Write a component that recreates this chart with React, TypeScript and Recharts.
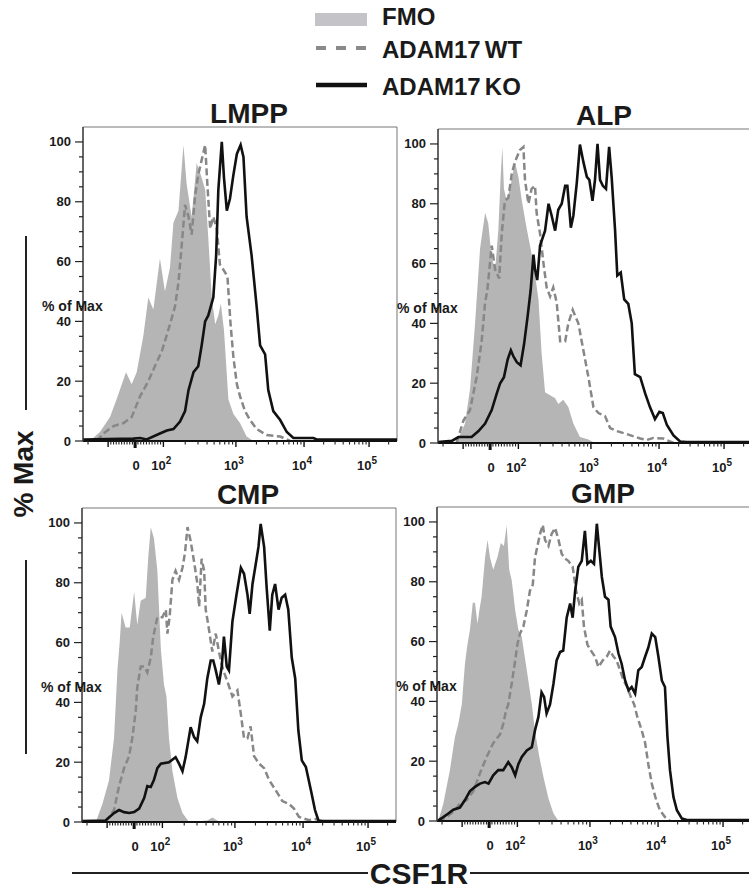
import React from 'react';
import { ComposedChart, Area, Line, XAxis, YAxis, ReferenceLine } from 'recharts';

type Pt = [number, number];

// x values are display channels (0..1000 across the plot), y values are % of max
const LMPP_FMO: Pt[] = [
  [22, 0], [54, 3], [86, 8], [107, 14], [137, 23], [155, 19], [171, 23], [192, 35], [208, 48], [224, 44],
  [245, 61], [261, 50], [277, 58], [288, 73], [304, 77], [320, 99], [330, 86], [346, 75], [362, 93], [378, 88],
  [389, 84], [399, 68], [410, 48], [421, 39], [431, 42], [439, 46], [449, 37], [463, 14], [479, 9], [500, 6],
  [521, 1.5], [543, 0],
];
const LMPP_WT: Pt[] = [
  [44, 0], [65, 2.5], [97, 5], [129, 6], [155, 8], [182, 15], [208, 20], [229, 25], [251, 30], [277, 39],
  [293, 45], [304, 53], [314, 65], [325, 79], [336, 75], [346, 69], [357, 82], [367, 89], [378, 94], [389, 99],
  [396, 86], [405, 71], [415, 75], [426, 71], [436, 59], [449, 57], [460, 55], [470, 39], [479, 28], [490, 19],
  [500, 15], [516, 10], [532, 7], [553, 4], [585, 2], [628, 1.5], [660, 0],
];
const LMPP_KO: Pt[] = [
  [0, 0.5], [160, 0.8], [182, 1], [203, 0.5], [245, 2.5], [267, 3.5], [288, 4], [309, 6.5], [325, 10], [336, 17],
  [352, 23], [367, 25], [378, 32], [389, 40], [399, 42], [415, 48], [424, 62], [431, 84], [442, 100], [449, 88],
  [458, 77], [468, 81], [479, 89], [490, 96], [502, 99], [511, 95], [521, 75], [537, 62], [553, 45], [564, 32],
  [580, 29], [590, 17], [606, 10], [628, 7], [649, 3], [670, 1], [734, 1], [744, 0.5], [1000, 0.5],
];

const ALP_FMO: Pt[] = [
  [59, 0], [86, 6.5], [102, 18], [118, 40], [134, 65], [150, 77], [160, 73.5], [171, 62], [182, 58], [192, 71],
  [200, 90], [205, 99], [210, 85], [219, 81], [235, 88], [245, 94], [256, 89], [267, 81], [282, 72], [304, 60],
  [320, 48], [330, 30], [341, 17], [357, 16], [373, 15], [383, 13], [399, 14.5], [415, 12], [431, 6.5], [452, 2],
  [479, 1.2], [500, 0],
];
const ALP_WT: Pt[] = [
  [59, 0], [81, 7.5], [102, 11], [123, 22], [139, 34], [150, 47], [157, 51], [171, 66], [182, 58], [195, 55],
  [203, 70], [213, 81], [224, 82], [235, 90], [245, 94], [261, 98], [272, 99], [277, 88], [288, 80], [298, 85],
  [309, 86], [314, 77], [325, 70], [336, 60], [346, 52], [357, 49], [367, 52], [378, 47], [389, 34], [405, 34],
  [415, 40], [429, 44.5], [447, 40], [463, 31], [479, 22], [495, 12], [511, 10], [532, 9], [548, 5], [569, 4],
  [601, 3], [644, 1.5], [665, 1], [686, 1.7], [718, 1.5], [750, 0],
];
const ALP_KO: Pt[] = [
  [0, 0.3], [44, 0.7], [65, 2], [107, 2], [129, 4], [150, 6.5], [171, 11], [187, 16.5], [198, 20], [210, 22],
  [222, 28], [232, 31], [240, 29], [251, 27], [263, 26], [274, 33], [285, 42], [295, 51], [304, 63], [309, 58],
  [316, 54.5], [325, 66], [341, 71], [352, 80], [362, 76], [373, 71], [383, 78], [394, 80], [405, 86], [412, 86],
  [423, 72], [431, 76], [442, 87], [452, 99.8], [463, 94], [474, 89], [482, 88], [492, 81], [500, 88], [508, 100],
  [516, 88], [525, 86], [535, 85], [545, 99], [553, 89], [564, 71], [571, 56], [582, 57], [593, 48], [606, 46.5],
  [617, 40], [627, 23], [644, 22], [660, 16.5], [675, 12], [691, 8], [705, 10.4], [716, 10], [729, 6], [750, 2.5],
  [771, 0.5], [792, 0.3], [1000, 0.3],
];

const CMP_FMO: Pt[] = [
  [44, 0], [65, 6], [86, 14], [102, 28], [113, 51], [120, 60], [126, 70], [139, 65], [152, 65], [166, 77],
  [176, 66], [187, 74], [203, 75], [211, 88.5], [219, 98.6], [229, 95], [240, 84], [251, 58], [261, 46], [269, 42],
  [277, 28], [288, 17], [304, 8], [320, 3], [341, 0], [399, 0.5], [415, 1.5], [431, 0.5], [442, 0],
];
const CMP_WT: Pt[] = [
  [75, 0], [102, 4], [118, 12], [134, 18], [150, 22], [160, 28], [171, 37], [176, 45], [187, 52], [198, 52],
  [208, 50], [219, 55], [227, 62], [240, 68.5], [256, 68.5], [267, 71], [272, 63], [279, 68.5], [288, 81], [298, 84],
  [309, 81], [320, 85], [328, 90], [336, 98.6], [346, 94], [357, 87], [367, 80], [373, 72], [381, 88], [389, 84],
  [394, 71], [402, 66], [415, 57], [426, 63], [436, 57], [449, 51], [463, 47], [479, 42], [495, 44], [506, 36],
  [516, 28], [527, 28], [537, 32], [548, 22], [564, 19.5], [580, 18], [596, 14], [617, 10.6], [638, 7], [660, 6],
  [675, 4.5], [691, 1.7], [723, 0.6], [744, 1], [766, 0],
];
const CMP_KO: Pt[] = [
  [0, 0.3], [75, 0.5], [102, 3], [118, 4], [134, 3.3], [150, 3], [166, 3.3], [182, 4.5], [198, 8], [208, 12],
  [219, 11.7], [229, 14], [240, 18], [251, 19.5], [277, 20], [298, 21.7], [309, 19.5], [320, 17], [330, 21.7], [346, 31.7],
  [357, 28.4], [367, 27], [378, 35], [389, 39.5], [399, 48], [410, 54], [418, 54], [426, 50.7], [436, 46], [445, 52],
  [452, 62], [461, 52], [468, 50.7], [479, 67], [492, 76], [506, 85], [516, 83], [527, 76], [534, 69.6], [543, 79.6],
  [553, 86], [562, 92], [569, 99.7], [580, 92], [588, 78.5], [598, 64], [606, 76], [615, 79.6], [626, 71], [636, 75],
  [647, 76], [657, 71], [668, 55], [679, 48], [689, 30.6], [700, 20.6], [713, 18.4], [729, 10.6], [742, 4], [753, 0.5],
  [766, 0.3], [1000, 0.3],
];

const GMP_FMO: Pt[] = [
  [4, 0], [20, 5.8], [41, 17], [57, 28], [68, 32.5], [79, 39], [89, 52.6], [97, 59], [105, 64], [114, 73],
  [121, 73], [129, 66], [135, 70.5], [142, 75], [153, 88], [161, 94], [169, 88], [179, 84], [192, 88], [203, 93],
  [213, 92], [222, 99], [230, 84], [238, 80.5], [249, 70.5], [259, 64], [270, 61.5], [286, 50.4], [302, 39], [312, 30],
  [326, 21.4], [339, 14.7], [355, 7.5], [371, 2.5], [387, 0],
];
const GMP_WT: Pt[] = [
  [4, 0], [31, 1.3], [57, 3.6], [73, 5.8], [95, 7], [116, 10], [137, 16], [158, 21.4], [179, 26], [201, 29],
  [211, 32.5], [220, 37], [227, 39], [238, 46], [249, 53.7], [256, 59], [264, 62.6], [275, 65], [286, 70.5], [296, 77],
  [305, 79], [312, 88], [320, 92], [328, 96], [337, 99], [344, 94], [355, 92], [365, 96], [376, 98], [387, 94],
  [397, 89.4], [408, 87.7], [418, 87], [432, 85], [443, 77], [453, 72.7], [461, 74], [468, 65], [479, 59], [490, 57],
  [503, 55], [514, 51.5], [528, 53.7], [541, 55], [551, 57], [562, 55], [572, 53.7], [583, 50.4], [594, 47], [606, 44.8],
  [617, 41.5], [628, 39], [638, 34.8], [652, 30.3], [663, 26], [673, 19], [684, 12.5], [698, 7], [710, 3.6], [726, 1.3],
  [742, 0],
];
const GMP_KO: Pt[] = [
  [4, 0.2], [20, 1.3], [36, 2.5], [52, 3.8], [73, 4.5], [89, 7], [105, 10], [121, 11.4], [137, 12.5], [153, 13],
  [164, 12.5], [179, 15.3], [195, 17], [211, 17], [227, 19.7], [238, 18], [249, 15.3], [259, 19], [270, 21.4], [286, 23.6],
  [302, 24.7], [312, 30.3], [323, 34.8], [333, 43], [341, 41.5], [349, 36], [360, 39], [371, 46], [381, 53.7], [392, 56.5],
  [402, 57], [413, 68], [424, 72.7], [432, 68], [440, 77], [450, 85], [461, 87], [471, 97], [479, 86], [490, 87],
  [500, 86], [509, 99.4], [517, 90.5], [525, 81.6], [535, 75], [546, 74], [553, 65], [567, 61.5], [578, 56], [588, 52.6],
  [599, 47], [610, 43.7], [620, 44.8], [631, 42.6], [641, 50.4], [652, 51.5], [663, 55], [673, 58], [684, 62.7], [695, 61.5],
  [705, 55], [716, 47], [726, 44.8], [734, 28], [742, 17], [753, 8], [764, 3.6], [780, 0.8], [796, 0.3], [1000, 0.3],
];

// axis ticks (display channels) and labels
const X_MAJOR_TICKS = [80, 166, 256, 487, 704, 911];
const X_MAJOR_BASE = ['', '0', '10', '10', '10', '10'];
const X_MAJOR_EXP = ['', '', '2', '3', '4', '5'];
const X_EXTRA_MINOR = [16];
const Y_TICKS = [0, 5, 10, 15, 20, 25, 30, 35, 40, 45, 50, 55, 60, 65, 70, 75, 80, 85, 90, 95, 100];
const Y_LABELED = [0, 20, 40, 60, 80, 100];

const LEGEND_LABELS = ['FMO', 'ADAM17 WT', 'ADAM17 KO'];
const PANEL_TITLES = ['LMPP', 'ALP', 'CMP', 'GMP'];
const Y_AXIS_LABEL = '% of Max';
const BIG_Y_LABEL = '% Max';
const BIG_X_LABEL = 'CSF1R';

const FONT = '"Liberation Sans", Arial, Helvetica, sans-serif';
const FMO_FILL = '#b5b5b5';
const WT_STROKE = '#878787';
const KO_STROKE = '#111111';
const INK = '#1a1a1a';

function buildMinorTicks(): number[] {
  const out: number[] = [...X_EXTRA_MINOR];
  const neg = X_MAJOR_TICKS[0];
  const zero = X_MAJOR_TICKS[1];
  const pos = X_MAJOR_TICKS[2];
  for (let k = 1; k <= 9; k++) {
    out.push(zero - (k * (zero - neg)) / 10);
    out.push(zero + (k * (pos - zero)) / 10);
  }
  const decades = X_MAJOR_TICKS.slice(2);
  for (let i = 0; i < decades.length; i++) {
    const a = decades[i];
    const b = i + 1 < decades.length ? decades[i + 1] : a + (decades[i] - decades[i - 1]);
    for (let m = 2; m <= 9; m++) {
      const p = a + Math.log10(m) * (b - a);
      if (p < 1000) out.push(p);
    }
  }
  return out;
}
const X_ALL_TICKS = [...X_MAJOR_TICKS, ...buildMinorTicks()].sort((a, b) => a - b);

function merge(fmo: Pt[], wt: Pt[], ko: Pt[]) {
  const map = new Map<number, any>();
  const add = (arr: Pt[], key: string) =>
    arr.forEach(([x, y]) => {
      const r = map.get(x) ?? { x };
      r[key] = y;
      map.set(x, r);
    });
  add(fmo, 'fmo');
  add(wt, 'wt');
  add(ko, 'ko');
  return Array.from(map.values()).sort((a, b) => a.x - b.x);
}

const XTick = (props: any) => {
  const { x, y, payload } = props;
  const v = payload.value;
  const mi = X_MAJOR_TICKS.indexOf(v);
  if (mi < 0) {
    return <line x1={x} x2={x} y1={y} y2={y + 3.5} stroke="#222" strokeWidth={1.1} />;
  }
  const isZero = X_MAJOR_BASE[mi] === '0';
  return (
    <g>
      <line x1={x} x2={x} y1={y} y2={y + (isZero ? 7 : 6)} stroke="#111" strokeWidth={isZero ? 3 : 1.4} />
      {X_MAJOR_BASE[mi] !== '' && (
        <text
          x={isZero ? x + 1 : x - 2}
          y={y + 29}
          textAnchor="middle"
          fontSize={13}
          fontWeight="bold"
          fontFamily={FONT}
          fill={INK}
        >
          {X_MAJOR_BASE[mi]}
          {X_MAJOR_EXP[mi] !== '' && (
            <tspan dy={-6} fontSize={10}>
              {X_MAJOR_EXP[mi]}
            </tspan>
          )}
        </text>
      )}
    </g>
  );
};

const YTick = (props: any) => {
  const { x, y, payload } = props;
  const v = payload.value;
  const major = Y_LABELED.indexOf(v) >= 0;
  return (
    <g>
      <line x1={x - (major ? 8 : 4)} x2={x} y1={y} y2={y} stroke="#222" strokeWidth={1.2} />
      {major && (
        <text x={x - 12} y={y + 4.5} textAnchor="end" fontSize={13} fontWeight="bold" fontFamily={FONT} fill={INK}>
          {v}
        </text>
      )}
    </g>
  );
};

const PLOT = 314;
const PANEL_POS = [
  { left: 83, top: 127 },
  { left: 438, top: 129 },
  { left: 82, top: 508 },
  { left: 437, top: 507 },
];
const PANEL_DATA = [
  merge(LMPP_FMO, LMPP_WT, LMPP_KO),
  merge(ALP_FMO, ALP_WT, ALP_KO),
  merge(CMP_FMO, CMP_WT, CMP_KO),
  merge(GMP_FMO, GMP_WT, GMP_KO),
];

function Panel({ idx }: { idx: number }) {
  const pos = PANEL_POS[idx];
  return (
    <div style={{ position: 'absolute', left: pos.left - 83, top: pos.top - 40 }}>
      <ComposedChart
        width={83 + PLOT + 5}
        height={40 + PLOT + 45}
        data={PANEL_DATA[idx]}
        margin={{ top: 40, right: 5, bottom: 0, left: 0 }}
      >
        <XAxis
          dataKey="x"
          type="number"
          domain={[0, 1000]}
          ticks={X_ALL_TICKS}
          interval={0}
          tick={<XTick />}
          tickLine={false}
          tickSize={0}
          tickMargin={0}
          height={45}
          allowDataOverflow
          axisLine={{ stroke: '#111', strokeWidth: 2 }}
        />
        <YAxis
          type="number"
          domain={[0, 105]}
          ticks={Y_TICKS}
          interval={0}
          tick={<YTick />}
          tickLine={false}
          tickSize={0}
          tickMargin={0}
          width={83}
          allowDataOverflow
          axisLine={{ stroke: '#333', strokeWidth: 1.5 }}
        />
        <ReferenceLine y={105} stroke="#777" strokeWidth={1} />
        <ReferenceLine x={1000} stroke="#777" strokeWidth={1} />
        <Area
          dataKey="fmo"
          type="linear"
          stroke="none"
          fill={FMO_FILL}
          fillOpacity={1}
          connectNulls
          isAnimationActive={false}
          dot={false}
          activeDot={false}
        />
        <Line
          dataKey="wt"
          type="linear"
          stroke={WT_STROKE}
          strokeWidth={2.5}
          strokeDasharray="7 3.5"
          connectNulls
          dot={false}
          activeDot={false}
          isAnimationActive={false}
        />
        <Line
          dataKey="ko"
          type="linear"
          stroke={KO_STROKE}
          strokeWidth={2.6}
          connectNulls
          dot={false}
          activeDot={false}
          isAnimationActive={false}
        />
      </ComposedChart>
    </div>
  );
}

function Overlay() {
  return (
    <svg
      width={749}
      height={890}
      style={{ position: 'absolute', left: 0, top: 0, pointerEvents: 'none' }}
      fontFamily={FONT}
      fontWeight="bold"
      fill={INK}
    >
      {/* legend */}
      <rect x={315} y={13} width={52} height={13} fill="#c4c4c8" />
      <text x={382} y={25} fontSize={24}>{LEGEND_LABELS[0]}</text>
      <line x1={316} x2={367} y1={48} y2={48} stroke="#8a8a8a" strokeWidth={4} strokeDasharray="10 10" />
      <text x={382} y={58} fontSize={24} wordSpacing={-2.5}>{LEGEND_LABELS[1]}</text>
      <line x1={316} x2={367} y1={85} y2={85} stroke="#111" strokeWidth={4.5} />
      <text x={382} y={95} fontSize={24} wordSpacing={-2.5}>{LEGEND_LABELS[2]}</text>

      {/* panel titles and y labels */}
      {PANEL_POS.map((p, i) => (
        <g key={i}>
          <text x={p.left + 166} y={p.top - 4} fontSize={28} textAnchor="middle">
            {PANEL_TITLES[i]}
          </text>
          <text x={p.left - 41} y={p.top + PLOT - 130} fontSize={14}>
            {Y_AXIS_LABEL}
          </text>
        </g>
      ))}

      {/* shared y label */}
      <line x1={26} x2={26} y1={236} y2={410} stroke="#222" strokeWidth={2} />
      <line x1={26} x2={26} y1={560} y2={754} stroke="#222" strokeWidth={2} />
      <text transform="translate(33,474) rotate(-90)" textAnchor="middle" fontSize={28}>
        {BIG_Y_LABEL}
      </text>

      {/* shared x label */}
      <line x1={72} x2={368} y1={873} y2={873} stroke="#222" strokeWidth={2} />
      <line x1={470} x2={749} y1={873} y2={873} stroke="#222" strokeWidth={2} />
      <text x={419} y={884} fontSize={30} textAnchor="middle">
        {BIG_X_LABEL}
      </text>
    </svg>
  );
}

export default function App() {
  return (
    <div
      style={{
        position: 'absolute',
        left: 0,
        top: 0,
        width: 749,
        height: 890,
        overflow: 'hidden',
        background: '#fff',
        fontFamily: FONT,
      }}
    >
      {[0, 1, 2, 3].map((i) => (
        <Panel key={i} idx={i} />
      ))}
      <Overlay />
    </div>
  );
}
